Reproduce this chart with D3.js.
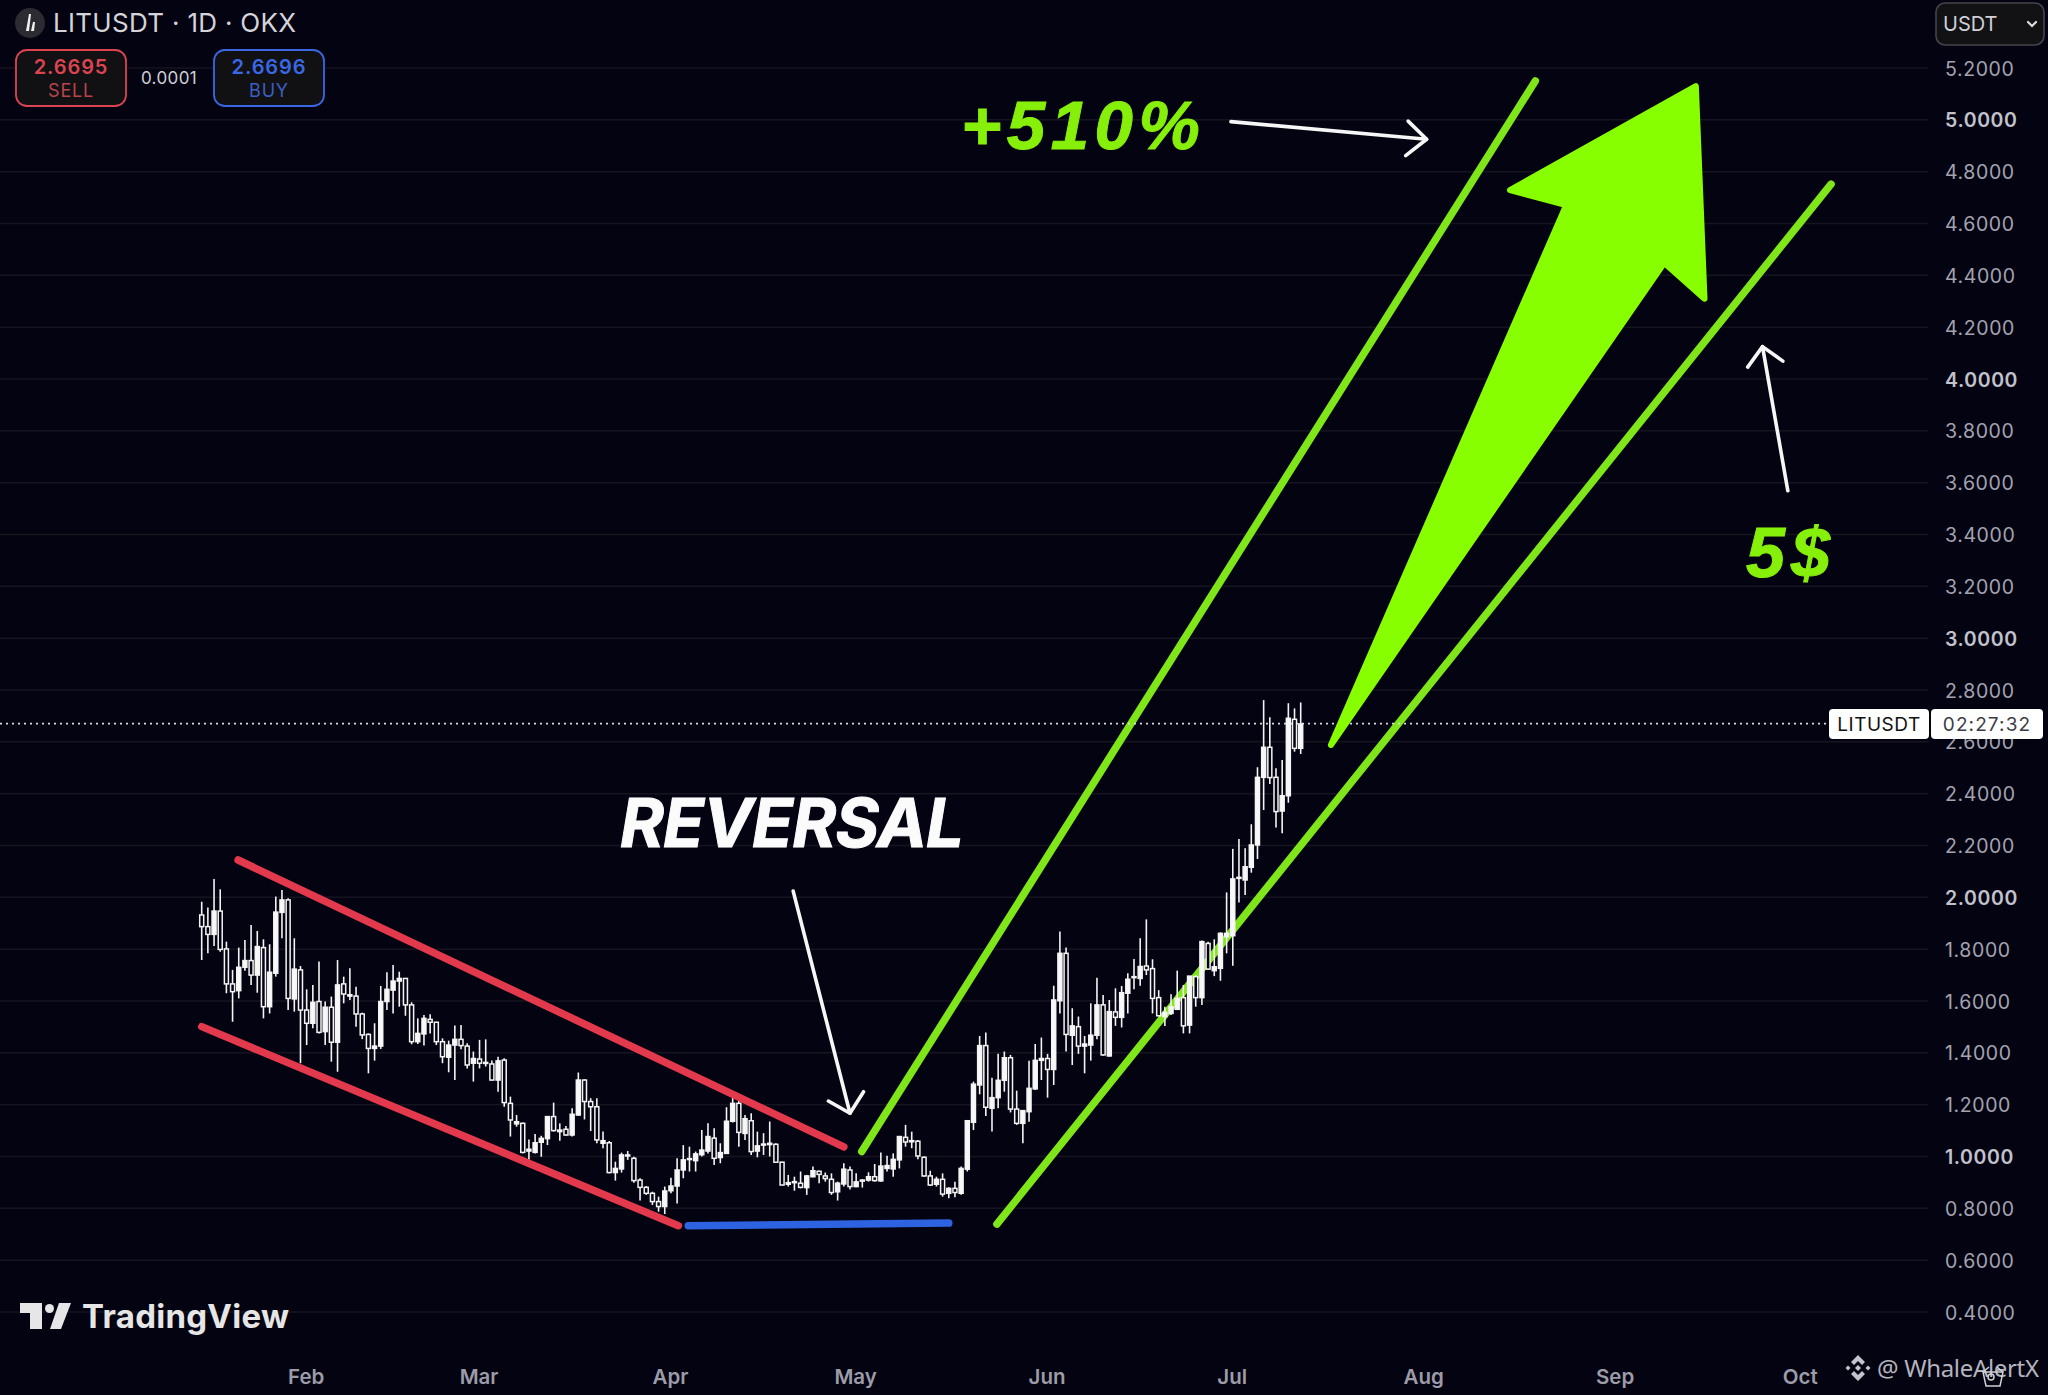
<!DOCTYPE html>
<html>
<head>
<meta charset="utf-8">
<script src="https://cdn.jsdelivr.net/npm/d3@7"></script>
<style>
  html, body { margin: 0; padding: 0; background: #040312; }
  svg { display: block; }
  text { font-family: Inter, sans-serif; }
</style>
</head>
<body>
<div id="chart"></div>
<script>
// daily candles, index 0 is Jan 15
var opens = [1.932,1.887,1.857,1.947,1.801,1.666,1.640,1.730,1.756,1.700,1.806,1.578,1.707,1.942,1.990,1.608,1.720,1.565,1.514,1.598,
  1.482,1.576,1.441,1.666,1.619,1.619,1.550,1.471,1.417,1.426,1.598,1.642,1.677,1.687,1.585,1.443,1.473,1.529,1.518,1.443,
  1.383,1.430,1.452,1.426,1.360,1.376,1.360,1.357,1.295,1.372,1.205,1.126,1.128,1.021,1.016,1.055,1.069,1.154,1.096,1.105,
  1.083,1.160,1.295,1.212,1.192,1.051,1.053,0.938,0.952,1.002,0.993,0.909,0.881,0.858,0.826,0.807,0.868,0.886,0.948,0.989,
  0.984,1.007,1.021,1.071,0.996,1.012,1.136,1.205,1.089,1.138,1.021,1.044,1.046,1.047,0.978,0.893,0.899,0.897,0.880,0.922,
  0.943,0.925,0.912,0.864,0.894,0.948,0.884,0.907,0.909,0.922,0.906,0.954,0.952,0.987,1.074,1.057,1.059,0.997,0.925,0.893,
  0.912,0.858,0.877,0.858,0.951,1.132,1.276,1.428,1.186,1.227,1.294,1.381,1.183,1.128,1.173,1.261,1.371,1.378,1.336,1.601,
  1.784,1.468,1.501,1.426,1.430,1.468,1.585,1.388,1.558,1.537,1.630,1.691,1.687,1.735,1.725,1.613,1.540,1.552,1.568,1.613,
  1.507,1.694,1.613,1.822,1.717,1.726,1.848,1.852,2.073,2.067,2.116,2.202,2.463,2.579,2.463,2.333,2.392,2.687,2.575];
var highs = [1.983,1.961,2.071,2.031,1.829,1.720,1.806,1.835,1.893,1.870,1.838,1.819,2.003,2.028,1.996,1.842,1.735,1.645,1.662,1.752,
  1.598,1.617,1.758,1.694,1.726,1.655,1.555,1.475,1.514,1.658,1.711,1.739,1.713,1.687,1.595,1.533,1.546,1.549,1.519,1.456,
  1.447,1.505,1.507,1.437,1.405,1.450,1.452,1.370,1.385,1.379,1.231,1.160,1.131,1.066,1.087,1.080,1.154,1.208,1.128,1.118,
  1.186,1.324,1.298,1.225,1.225,1.096,1.060,0.980,1.015,1.021,0.999,0.916,0.886,0.864,0.845,0.884,0.918,0.993,1.044,1.038,
  1.019,1.102,1.128,1.109,1.051,1.190,1.231,1.218,1.160,1.167,1.096,1.090,1.135,1.051,0.980,0.929,0.922,0.942,0.929,0.961,
  0.945,0.938,0.935,0.903,0.974,0.961,0.935,0.912,0.939,0.971,1.015,1.003,1.012,1.077,1.122,1.096,1.064,1.000,0.945,0.922,
  0.935,0.881,0.903,0.961,1.141,1.289,1.465,1.478,1.304,1.396,1.405,1.392,1.254,1.177,1.369,1.434,1.459,1.396,1.659,1.868,
  1.806,1.572,1.540,1.465,1.591,1.690,1.623,1.604,1.649,1.658,1.707,1.762,1.842,1.915,1.761,1.642,1.578,1.626,1.717,1.662,
  1.696,1.700,1.833,1.829,1.838,1.865,2.019,2.187,2.225,2.189,2.282,2.502,2.761,2.695,2.498,2.530,2.749,2.729,2.752];
var lows = [1.758,1.784,1.812,1.790,1.630,1.520,1.610,1.717,1.662,1.632,1.533,1.552,1.694,1.842,1.565,1.559,1.360,1.430,1.495,1.475,
  1.430,1.366,1.327,1.591,1.604,1.501,1.453,1.321,1.370,1.415,1.565,1.552,1.578,1.543,1.433,1.434,1.428,1.475,1.430,1.360,
  1.325,1.295,1.414,1.340,1.289,1.340,1.347,1.293,1.250,1.192,1.077,1.115,1.012,0.987,1.012,0.999,1.044,1.096,1.061,1.080,
  1.077,1.158,1.143,1.098,1.051,1.032,0.935,0.907,0.938,0.987,0.899,0.830,0.852,0.813,0.787,0.778,0.858,0.819,0.916,0.942,
  0.942,1.000,1.012,0.967,0.974,1.010,1.131,1.038,1.064,1.006,0.997,1.006,1.000,0.976,0.889,0.884,0.868,0.877,0.852,0.920,
  0.897,0.903,0.852,0.830,0.884,0.873,0.881,0.880,0.903,0.903,0.903,0.942,0.922,0.954,1.038,1.032,0.989,0.922,0.886,0.884,
  0.845,0.839,0.843,0.852,0.942,1.102,1.240,1.156,1.096,1.186,1.250,1.170,1.122,1.051,1.134,1.257,1.295,1.227,1.276,1.552,
  1.405,1.353,1.396,1.321,1.370,1.452,1.389,1.385,1.504,1.498,1.552,1.645,1.659,1.700,1.552,1.540,1.504,1.546,1.565,1.475,
  1.475,1.578,1.585,1.720,1.696,1.678,1.784,1.736,1.980,2.009,2.095,2.148,2.337,2.437,2.269,2.247,2.365,2.562,2.553];
var closes = [1.887,1.857,1.947,1.799,1.666,1.636,1.730,1.756,1.700,1.810,1.578,1.711,1.943,1.990,1.610,1.723,1.565,1.514,1.595,1.479,
  1.576,1.441,1.662,1.627,1.624,1.550,1.469,1.417,1.426,1.598,1.645,1.677,1.687,1.585,1.443,1.475,1.533,1.518,1.443,1.385,
  1.430,1.452,1.428,1.353,1.378,1.360,1.363,1.295,1.369,1.208,1.141,1.134,1.016,1.028,1.053,1.070,1.154,1.100,1.102,1.083,
  1.163,1.295,1.212,1.192,1.064,1.061,0.938,0.954,1.006,1.006,0.907,0.881,0.858,0.826,0.807,0.867,0.886,0.948,0.987,0.992,
  1.010,1.025,1.077,0.993,1.015,1.136,1.205,1.093,1.146,1.019,1.041,1.048,1.051,0.978,0.890,0.899,0.903,0.881,0.925,0.945,
  0.931,0.915,0.861,0.897,0.951,0.884,0.902,0.909,0.922,0.907,0.963,0.965,0.989,1.077,1.056,1.061,1.002,0.925,0.890,0.912,
  0.855,0.877,0.861,0.954,1.138,1.279,1.428,1.190,1.227,1.294,1.381,1.183,1.128,1.177,1.263,1.371,1.378,1.336,1.604,1.784,
  1.471,1.504,1.426,1.434,1.468,1.585,1.392,1.559,1.537,1.632,1.684,1.694,1.733,1.720,1.610,1.543,1.556,1.578,1.610,1.504,
  1.696,1.613,1.829,1.723,1.732,1.861,1.861,2.071,2.077,2.118,2.202,2.463,2.579,2.462,2.331,2.392,2.691,2.575,2.669];

var priceTicks = [5.2,5.0,4.8,4.6,4.4,4.2,4.0,3.8,3.6,3.4,3.2,3.0,2.8,2.6,2.4,2.2,2.0,1.8,1.6,1.4,1.2,1.0,0.8,0.6,0.4];
var monthLabels = ["Feb","Mar","Apr","May","Jun","Jul","Aug","Sep","Oct"];
var monthDays = [17,45,76,106,137,167,198,229,259];   // day index of the 1st of each month

var lastPrice = 2.67;

// drawn trend lines, [day index, price]
var redUpper = [[5.9,2.144],[104.0,1.037]];
var redLower = [[0,1.501],[77.2,0.733]];
var blueBase = [[78.8,0.733],[121.0,0.743]];
var greenUpper = [[106.9,1.019],[216,5.15]];
var greenLower = [[128.8,0.739],[263.9,4.752]];
var bigArrow = [[182.9,2.588],[221.0,4.671],[211.9,4.729],[242.0,5.13],[243.4,4.31],[236.9,4.448]];
var targetArrow = {line:[[166.7,4.993],[198.4,4.925]], head:[[195.4,4.995],[198.4,4.925],[195.0,4.862]]};
var reversalArrow = {line:[[95.8,2.024],[105.0,1.167]], head:[[101.5,1.214],[105.0,1.167],[107.2,1.250]]};
var fiveArrow = {line:[[256.9,3.569],[252.8,4.125]], head:[[250.4,4.046],[252.8,4.125],[256.1,4.069]]};

var width = 2048, height = 1395, bg = "#040312";

var svg = d3.select("#chart").append("svg")
    .attr("width", width)
    .attr("height", height)
    .style("background", bg);

// 1 day = 6.174px, 1.0 USDT = 259.17px
var x = d3.scaleLinear().domain([0, 259]).range([201.7, 1800.8]);
var y = d3.scaleLinear().domain([0.4, 5.2]).range([1312, 68]);

var line = d3.line().x(function(d) { return x(d[0]); }).y(function(d) { return y(d[1]); });

// grid + price axis
svg.append("g").selectAll("line").data(priceTicks).enter().append("line")
    .attr("x1", 0).attr("x2", 1928)
    .attr("y1", function(d) { return y(d); })
    .attr("y2", function(d) { return y(d); })
    .attr("stroke", "#15141f")
    .attr("stroke-width", 1.5);

var yAxis = d3.axisRight(y).tickValues(priceTicks).tickFormat(d3.format(".4f")).tickSize(0).tickPadding(0);
var yG = svg.append("g").attr("transform", "translate(1945,0.8)").call(yAxis);
yG.select(".domain").remove();
yG.selectAll("text")
    .style("font-family", "Inter, sans-serif")
    .style("font-size", "19.5px")
    .style("letter-spacing", "0.6px")
    .attr("fill", function(d) { return Number.isInteger(Math.round(d*10)/10) ? "#c2c2cc" : "#a3a3b0"; })
    .style("font-weight", function(d) { return Number.isInteger(Math.round(d*10)/10) ? 600 : 400; });

// month axis
var xAxis = d3.axisBottom(x).tickValues(monthDays)
    .tickFormat(function(d, i) { return monthLabels[i]; }).tickSize(0).tickPadding(0);
var xG = svg.append("g").attr("transform", "translate(-1,1369)").call(xAxis);
xG.select(".domain").remove();
xG.selectAll("text")
    .style("font-family", "Inter, sans-serif")
    .style("font-size", "20.5px")
    .style("font-weight", 600)
    .attr("fill", "#9c9ca8");

// lines that pass below the candles
var drawLine = function(pts, color, w) {
    svg.append("path").attr("d", line(pts))
        .attr("fill", "none").attr("stroke", color)
        .attr("stroke-width", w).attr("stroke-linecap", "round");
};
drawLine(greenUpper, "#7fe61a", 7.5);
drawLine(greenLower, "#7fe61a", 7.5);

// price line
svg.append("line")
    .attr("x1", 0).attr("x2", 1828)
    .attr("y1", y(lastPrice)).attr("y2", y(lastPrice))
    .attr("stroke", "#d8d8dc").attr("stroke-width", 1.8)
    .attr("stroke-dasharray", "2 4");

// candles
var candles = opens.map(function(o, i) {
    return {i: i, o: o, h: highs[i], l: lows[i], c: closes[i]};
});
var cg = svg.append("g").selectAll("g").data(candles).enter().append("g");
cg.append("line")
    .attr("x1", function(d) { return x(d.i); })
    .attr("x2", function(d) { return x(d.i); })
    .attr("y1", function(d) { return y(d.h); })
    .attr("y2", function(d) { return y(d.l); })
    .attr("stroke", "#f4f4f4").attr("stroke-width", 1.6);
cg.append("rect")
    .attr("x", function(d) { return x(d.i) - 2; })
    .attr("width", 4)
    .attr("y", function(d) { return y(Math.max(d.o, d.c)); })
    .attr("height", function(d) { return Math.max(1, Math.abs(y(d.o) - y(d.c))); })
    .attr("fill", function(d) { return d.c >= d.o ? "#f8f8f8" : bg; })
    .attr("stroke", "#f4f4f4").attr("stroke-width", 1.5);

// channel lines
drawLine(redUpper, "#e23a4c", 7.5);
drawLine(redLower, "#e23a4c", 7.5);
drawLine(blueBase, "#2d62e0", 7.5);

// big arrow
svg.append("path")
    .attr("d", line(bigArrow) + "Z")
    .attr("fill", "#88ff00").attr("stroke", "#88ff00")
    .attr("stroke-width", 6).attr("stroke-linejoin", "round");

// thin white arrows
[targetArrow, reversalArrow, fiveArrow].forEach(function(a) {
    [a.line, a.head].forEach(function(p) {
        svg.append("path").attr("d", line(p))
            .attr("fill", "none").attr("stroke", "#f6f6f6")
            .attr("stroke-width", 3.6).attr("stroke-linecap", "round").attr("stroke-linejoin", "round");
    });
});

// big labels
var bigLabel = function(txt, px, py, size, spacing, color, font, weight) {
    svg.append("text").text(txt)
        .attr("x", px).attr("y", py)
        .attr("fill", color)
        .attr("stroke", color).attr("stroke-width", 1)
        .style("font-family", font)
        .style("font-weight", weight)
        .style("font-style", "italic")
        .style("font-size", size + "px")
        .style("letter-spacing", spacing + "px");
};
bigLabel("+510%", 961, 149, 69, 5.5, "#86f00a", "'Liberation Sans', sans-serif", 700);
bigLabel("REVERSAL", 620, 847, 67, -1, "#fbfbfb", "Inter, sans-serif", 700);
bigLabel("5$", 1746, 577, 70, 6, "#86f00a", "'Liberation Sans', sans-serif", 700);

// last price tag
svg.append("rect").attr("x", 1829).attr("y", 709).attr("width", 100).attr("height", 30).attr("rx", 4).attr("fill", "#fff");
svg.append("rect").attr("x", 1931).attr("y", 709).attr("width", 112).attr("height", 30).attr("rx", 4).attr("fill", "#fff");
svg.append("text").text("LITUSDT").attr("x", 1879).attr("y", 731).attr("text-anchor", "middle")
    .attr("fill", "#111").style("font-size", "19px").style("letter-spacing", "0.5px");
svg.append("text").text("02:27:32").attr("x", 1987).attr("y", 731).attr("text-anchor", "middle")
    .attr("fill", "#3c3c44").style("font-size", "19px").style("letter-spacing", "1.1px");

// header
svg.append("circle").attr("cx", 30).attr("cy", 23).attr("r", 15).attr("fill", "#2b2b31");
svg.append("path").attr("d", "M29 14 L31 14 L29 31 L26 31 Z M33 22 L35 22 L34 31 L31 31 Z").attr("fill", "#f0f0f0");
svg.append("text").text("LITUSDT · 1D · OKX").attr("x", 53).attr("y", 32)
    .attr("fill", "#d4d4da").style("font-size", "26px").style("letter-spacing", "0.3px");

var quoteBox = function(bx, price, label, color, labelColor) {
    svg.append("rect").attr("x", bx).attr("y", 50).attr("width", 110).attr("height", 56).attr("rx", 11)
        .attr("fill", "#111114").attr("stroke", color).attr("stroke-width", 1.8);
    svg.append("text").text(price).attr("x", bx + 55).attr("y", 74).attr("text-anchor", "middle")
        .attr("fill", color).style("font-size", "20px").style("font-weight", 600).style("letter-spacing", "0.9px");
    svg.append("text").text(label).attr("x", bx + 55).attr("y", 97).attr("text-anchor", "middle")
        .attr("fill", labelColor).style("font-size", "18px").style("letter-spacing", "0.8px");
};
quoteBox(16, "2.6695", "SELL", "#dc4450", "#b8434c");
quoteBox(214, "2.6696", "BUY", "#3a68e4", "#3a5fc4");
svg.append("text").text("0.0001").attr("x", 169).attr("y", 84).attr("text-anchor", "middle")
    .attr("fill", "#cfcfd6").style("font-size", "17px").style("letter-spacing", "0.4px");

// currency box
svg.append("rect").attr("x", 1936).attr("y", 3).attr("width", 108).attr("height", 42).attr("rx", 9)
    .attr("fill", "#121214").attr("stroke", "#45454c").attr("stroke-width", 1.6);
svg.append("text").text("USDT").attr("x", 1943).attr("y", 31)
    .attr("fill", "#cfcfd6").style("font-size", "20px");
svg.append("path").attr("d", "M2028 22 L2032 26 L2036 22").attr("fill", "none")
    .attr("stroke", "#dedee2").attr("stroke-width", 2.2).attr("stroke-linecap", "round");

// TradingView mark
var tv = svg.append("g").attr("fill", "#e6e6e6");
tv.append("path").attr("d", "M20 1303 H42 V1329 H30 V1313 H20 Z");
tv.append("circle").attr("cx", 49.5).attr("cy", 1308.5).attr("r", 4.5);
tv.append("path").attr("d", "M59 1303 H71 L61 1329 H50 Z");
tv.append("text").text("TradingView").attr("x", 82).attr("y", 1328).attr("textLength", 207)
    .attr("fill", "#e6e6e6").style("font-size", "33px").style("font-weight", 700);

// watermark
var wm = svg.append("g").attr("fill", "#c4c4cc").attr("transform", "translate(1858,1368)");
wm.append("path").attr("d", "M0 -13 L7 -6 L4 -3 L0 -7 L-4 -3 L-7 -6 Z");
wm.append("path").attr("d", "M0 13 L7 6 L4 3 L0 7 L-4 3 L-7 6 Z");
wm.append("path").attr("d", "M0 -3 L3 0 L0 3 L-3 0 Z");
wm.append("path").attr("d", "M-10 -2.5 L-7.5 0 L-10 2.5 L-12.5 0 Z");
wm.append("path").attr("d", "M10 -2.5 L12.5 0 L10 2.5 L7.5 0 Z");
svg.append("text").text("@ WhaleAlertX").attr("x", 1877).attr("y", 1377).attr("textLength", 162)
    .attr("fill", "#b4b4bd").style("font-family", "'Noto Sans', sans-serif").style("font-size", "24px");
svg.append("path").attr("d", "M1983 1372 L2003 1372 L2000 1386 L1986 1386 Z M1983 1372 L1989 1367 M2003 1372 L1997 1367")
    .attr("fill", "none").attr("stroke", "#d0d0d6").attr("stroke-width", 1.5);
svg.append("circle").attr("cx", 1991).attr("cy", 1377).attr("r", 3).attr("fill", "none").attr("stroke", "#d0d0d6").attr("stroke-width", 1.5);
</script>
</body>
</html>
